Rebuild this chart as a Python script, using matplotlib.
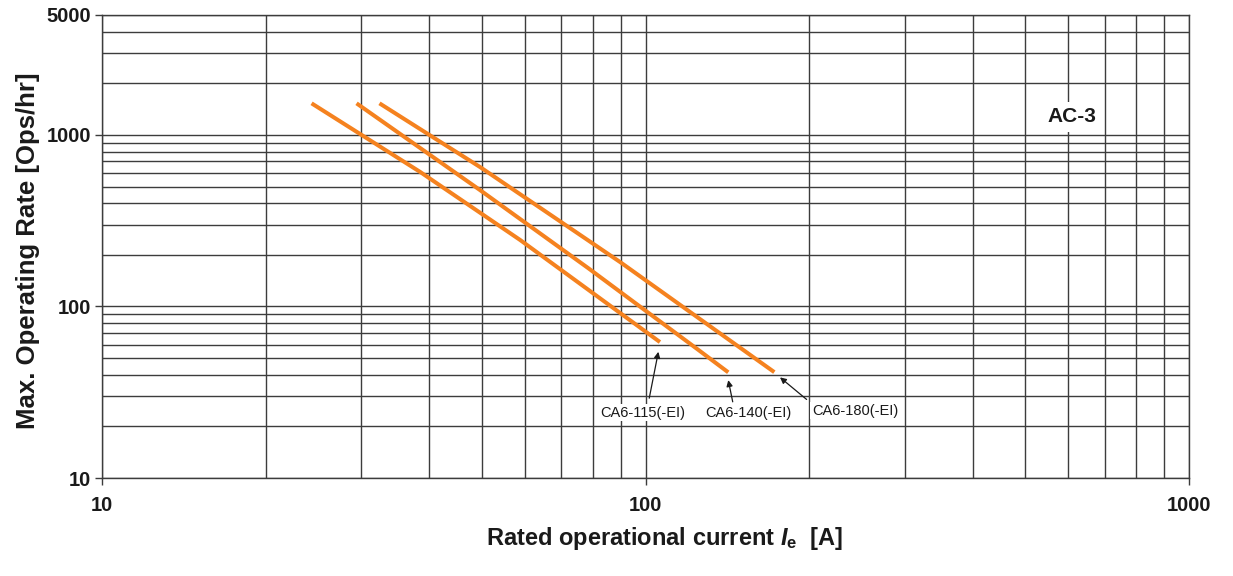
import matplotlib
matplotlib.use("Agg")
import matplotlib.pyplot as plt
from matplotlib.ticker import FixedLocator, NullFormatter, FixedFormatter

plt.rcParams['font.family'] = ['Liberation Sans', 'DejaVu Sans']
plt.rcParams['mathtext.fontset'] = 'custom'
plt.rcParams['mathtext.rm'] = 'Liberation Sans:bold'
plt.rcParams['mathtext.it'] = 'Liberation Sans:bold:italic'
plt.rcParams['mathtext.bf'] = 'Liberation Sans:bold'

# ---- data ----
ca115_x = [24.3, 38.5, 58.8, 106.3]
ca115_y = [1528, 608, 244, 62]
ca140_x = [29.4, 49.6, 78.5, 124, 142]
ca140_y = [1528, 477, 167, 57, 41.3]
ca180_x = [32.4, 49.6, 89.8, 172.6]
ca180_y = [1528, 650, 181.5, 41.4]

series_labels = ["CA6-115(-EI)", "CA6-140(-EI)", "CA6-180(-EI)"]
label_pos = [(98.9, 24.0), (154.4, 23.8), (243, 24.6)]
arrow_tail = [(101.6, 29.2), (144.7, 27.8), (197.9, 28.7)]
arrow_tip = [(105.6, 54.4), (142, 37.2), (176.8, 38.6)]

x_major = [10, 100, 1000]
y_major = [10, 100, 1000, 5000]
x_minor = [20, 30, 40, 50, 60, 70, 80, 90, 200, 300, 400, 500, 600, 700, 800, 900]
y_minor = [20, 30, 40, 50, 60, 70, 80, 90, 200, 300, 400, 500, 600, 700, 800, 900,
           2000, 3000, 4000]

orange = '#F5821F'
gridc = '#3c3c3c'
textc = '#1a1a1a'

fig = plt.figure(figsize=(12.33, 5.76), dpi=100)
ax = fig.add_axes([102/1233, 1-478/576, (1189-102)/1233, (478-15)/576])
ax.set_xscale('log')
ax.set_yscale('log')
ax.set_xlim(10, 1000)
ax.set_ylim(10, 5000)

ax.xaxis.set_major_locator(FixedLocator(x_major))
ax.xaxis.set_major_formatter(FixedFormatter([str(v) for v in x_major]))
ax.xaxis.set_minor_locator(FixedLocator(x_minor))
ax.xaxis.set_minor_formatter(NullFormatter())
ax.yaxis.set_major_locator(FixedLocator(y_major))
ax.yaxis.set_major_formatter(FixedFormatter([str(v) for v in y_major]))
ax.yaxis.set_minor_locator(FixedLocator(y_minor))
ax.yaxis.set_minor_formatter(NullFormatter())

ax.tick_params(which='minor', length=0)
ax.tick_params(which='major', length=5, width=1.0, color=gridc, direction='out')
ax.tick_params(axis='x', which='major', pad=8, labelsize=14.5)
ax.tick_params(axis='y', which='major', pad=3, labelsize=14.5)
for lab in ax.get_xticklabels() + ax.get_yticklabels():
    lab.set_fontweight('bold')
    lab.set_color(textc)

ax.grid(True, which='both', color=gridc, linewidth=1.0)
ax.set_axisbelow(True)
for s in ax.spines.values():
    s.set_color(gridc)
    s.set_linewidth(1.0)

for xs, ys in [(ca115_x, ca115_y), (ca140_x, ca140_y), (ca180_x, ca180_y)]:
    ax.plot(xs, ys, color=orange, linewidth=2.9, solid_capstyle='butt',
            solid_joinstyle='round', zorder=3)

for lab, pos, tail, tip in zip(series_labels, label_pos, arrow_tail, arrow_tip):
    ax.text(pos[0], pos[1], lab, ha='center', va='center', fontsize=10.5,
            color=textc, zorder=4,
            bbox=dict(facecolor='white', edgecolor='none', pad=1.0))
    ax.annotate('', xy=tip, xytext=tail,
                arrowprops=dict(arrowstyle='-|>', color=textc, lw=0.9,
                                mutation_scale=9, shrinkA=0, shrinkB=0),
                zorder=4)

ax.text(608, 1276, 'AC-3', ha='center', va='center', fontsize=15,
        fontweight='bold', color=textc, zorder=4,
        bbox=dict(facecolor='white', edgecolor='none', pad=4))

fig.text(28/1233, 1-251/576, 'Max. Operating Rate [Ops/hr]', rotation=90,
         ha='center', va='center', fontsize=18.5, fontweight='bold', color=textc)
fig.text(665/1233, 1-538/576, r'Rated operational current $\mathit{I}_{\mathrm{e}}$  [A]',
         ha='center', va='center', fontsize=17, fontweight='bold', color=textc)

fig.savefig('out.png', dpi=100, facecolor='white')
